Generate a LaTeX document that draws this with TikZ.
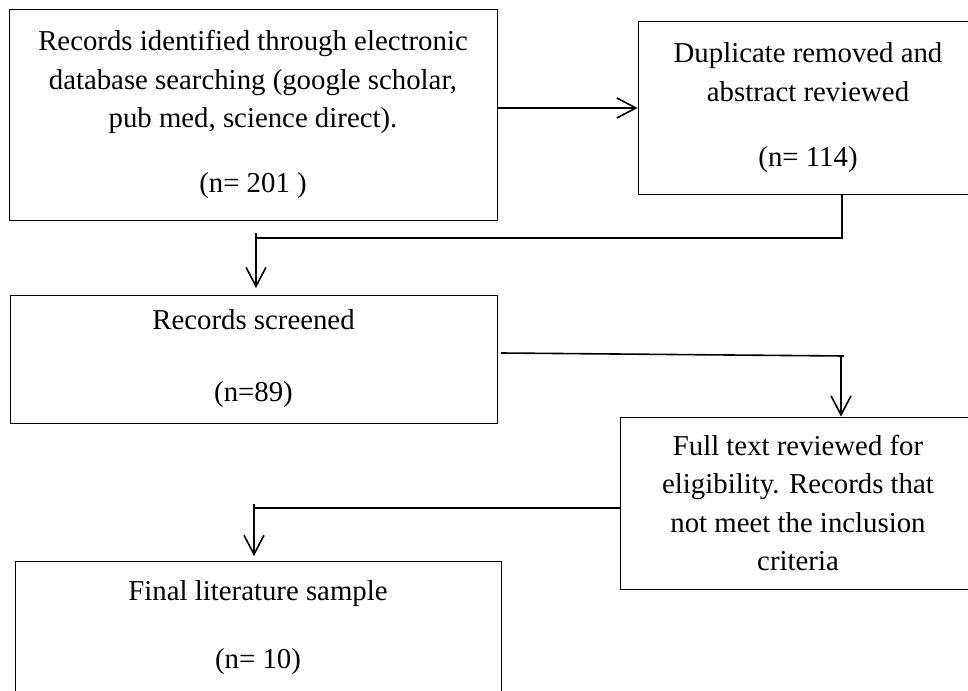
\documentclass[tikz,border=0pt]{standalone}
\usepackage{fontspec}
\setmainfont{Liberation Serif}
\usetikzlibrary{arrows.meta}
\begin{document}
\begin{tikzpicture}[x=1pt,y=-1pt,
  box/.style={draw=black, line width=0.9pt, rectangle, align=center, inner sep=0pt,
    font=\fontsize{28.8}{38.5}\selectfont},
  conn/.style={line width=1.6pt, black},
  arr/.style={conn, -{Straight Barb[length=19pt,width=20pt]}}
]
\clip (0,0) rectangle (968,690);
\useasboundingbox (0,0) rectangle (968,690);

\node[box, minimum width=488pt, minimum height=211pt] (b1) at (253,114.5)
  {Records identified through electronic\\database searching (google scholar,\\pub med, science direct).\\[26.5pt](n= 201 )};
\node[box, minimum width=340pt, minimum height=173pt] (b2) at (808,107.5)
  {Duplicate removed and\\abstract reviewed\\[26.5pt](n= 114)};
\node[box, minimum width=487pt, minimum height=128pt] (b3) at (253.5,359)
  {Records screened\\[33.5pt](n=89)};
\node[box, minimum width=356pt, minimum height=172pt] (b4) at (798,503)
  {Full text reviewed for\\eligibility. Records that\\not meet the inclusion\\criteria};
\node[box, minimum width=486pt, minimum height=134pt] (b5) at (258,628)
  {Final literature sample\\[29.5pt](n= 10)};

% b1 -> b2
\coordinate (p1) at (497,108);
\draw[arr] (p1) -- (p1 -| b2.west);

% b2 -> b3
\coordinate (k2) at (842,238);
\coordinate (k3) at (256,238);
\coordinate (k3s) at (256,233);
\coordinate (k3e) at (256,288);
\draw[conn] (k2 |- b2.south) -- (k2) -- (k3);
\draw[arr] (k3s) -- (k3e);

% b3 -> b4
\coordinate (k5) at (501,353);
\coordinate (k4) at (844,356);
\coordinate (k6) at (841,355);
\draw[conn] (k5) -- (k4);
\draw[arr] (k6) -- (k6 |- b4.north);

% b4 -> b5
\coordinate (k7) at (254,508);
\coordinate (k8) at (254,504);
\coordinate (k9) at (254,556);
\draw[conn] (b4.west |- k7) -- (k7);
\draw[arr] (k8) -- (k9);
\end{tikzpicture}
\end{document}
